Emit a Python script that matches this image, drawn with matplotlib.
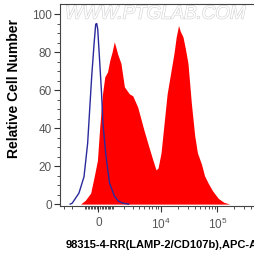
import numpy as np
import matplotlib
matplotlib.use("Agg")
import matplotlib.pyplot as plt
import matplotlib.patheffects as pe
from matplotlib.ticker import FixedLocator, NullFormatter

# Data (fluorescence intensity, APC-A) and relative cell number
sample_x = [-1248, -882, -506, -260, -65, 84, 260, 412, 596, 757, 919, 1088, 1191, 1358,
            1657, 1990, 2551, 2987, 3741, 4889, 6052, 7168, 8143, 8850, 10014,
            11491, 12859, 15170, 17166, 18660, 20530, 22010, 24590, 27040, 30180,
            34660, 39710, 44330, 52350, 59110, 68850, 82220, 103910, 129380, 165530]
sample_y = [0, 2, 5.8, 15, 23, 40.7, 58, 67, 69.6, 75.8, 80, 85.4, 83, 79,
            74, 61.7, 58, 57, 51, 39, 30, 23, 18, 19, 27,
            44, 58, 70.5, 80, 88, 94, 91, 88, 82, 74,
            53, 36, 27, 21, 15, 11, 7, 3, 1, 0]

control_x = [-2232, -2017, -1383, -979, -714, -575, -439, -280, -175, -110, -45,
             65, 195, 293, 493, 736, 1111, 1443, 1824, 2468]
control_y = [0, 0.5, 5.8, 14.4, 32, 49.5, 67, 84.5, 94.7, 95, 92,
             77, 59, 42, 25, 11, 4, 1.5, 0.5, 0]

major_ticks = [0, 1e4, 1e5]
major_labels = ["0", "$10^4$", "$10^5$"]
minor_ticks = ([-3000, -2000] + list(range(-900, 0, 100)) + list(range(100, 1000, 100))
               + [1000 * k for k in range(1, 10)] + [10000 * k for k in range(2, 10)]
               + [100000 * k for k in range(2, 6)])

C = 1572.0
def fwd(x):
    return np.arcsinh(np.asarray(x, dtype=float) / C)
def inv(y):
    return C * np.sinh(np.asarray(y, dtype=float))

plt.rcParams['font.family'] = ['Liberation Sans', 'DejaVu Sans']
plt.rcParams['mathtext.fontset'] = 'custom'
plt.rcParams['mathtext.rm'] = 'Liberation Sans'
plt.rcParams['mathtext.it'] = 'Liberation Sans'

fig = plt.figure(figsize=(2.55, 2.6), dpi=100)
ax = fig.add_axes([60/255, 1 - 206/260, 200/255, 202/260])
ax.set_xscale('function', functions=(fwd, inv))
ax.set_xlim(-3600, 568000)
ax.set_ylim(-1, 105.3)

ax.fill_between(sample_x, sample_y, 0, color='#ff0000', linewidth=0, zorder=2)
ax.plot(control_x, control_y, color='#2a2a9c', linewidth=1.0, zorder=3)

ax.xaxis.set_major_locator(FixedLocator(major_ticks))
ax.set_xticklabels(major_labels)
ax.xaxis.set_minor_locator(FixedLocator(minor_ticks))
ax.xaxis.set_minor_formatter(NullFormatter())
ax.set_yticks([0, 20, 40, 60, 80, 100])
ax.set_yticks(np.arange(0, 105, 5), minor=True)

ax.tick_params(axis='both', which='major', labelsize=8.5, labelcolor='#555555',
               length=4, width=0.8, color='#333333', pad=2)
ax.tick_params(axis='both', which='minor', length=2, width=0.6, color='#333333')
ax.tick_params(axis='x', which='major', pad=4)

for s in ['left', 'bottom', 'top']:
    ax.spines[s].set_color('#444444')
    ax.spines[s].set_linewidth(0.8)
ax.spines['right'].set_visible(False)

ax.text(0.025, 0.95, "WWW.PTGLAB.COM", transform=ax.transAxes, fontsize=13.5,
        color='white', ha='left', va='center', style='italic', zorder=1,
        path_effects=[pe.withStroke(linewidth=0.9, foreground='#d4d4d4')])

fig.text(14/255, 1 - 88/260, "Relative Cell Number", rotation=90, fontsize=10,
         fontweight='bold', ha='center', va='center')
fig.text(66/255, 1 - 245/260, "98315-4-RR(LAMP-2/CD107b),APC-A", fontsize=8.0,
         fontweight='bold', ha='left', va='center')

fig.savefig("out.png", dpi=100)
